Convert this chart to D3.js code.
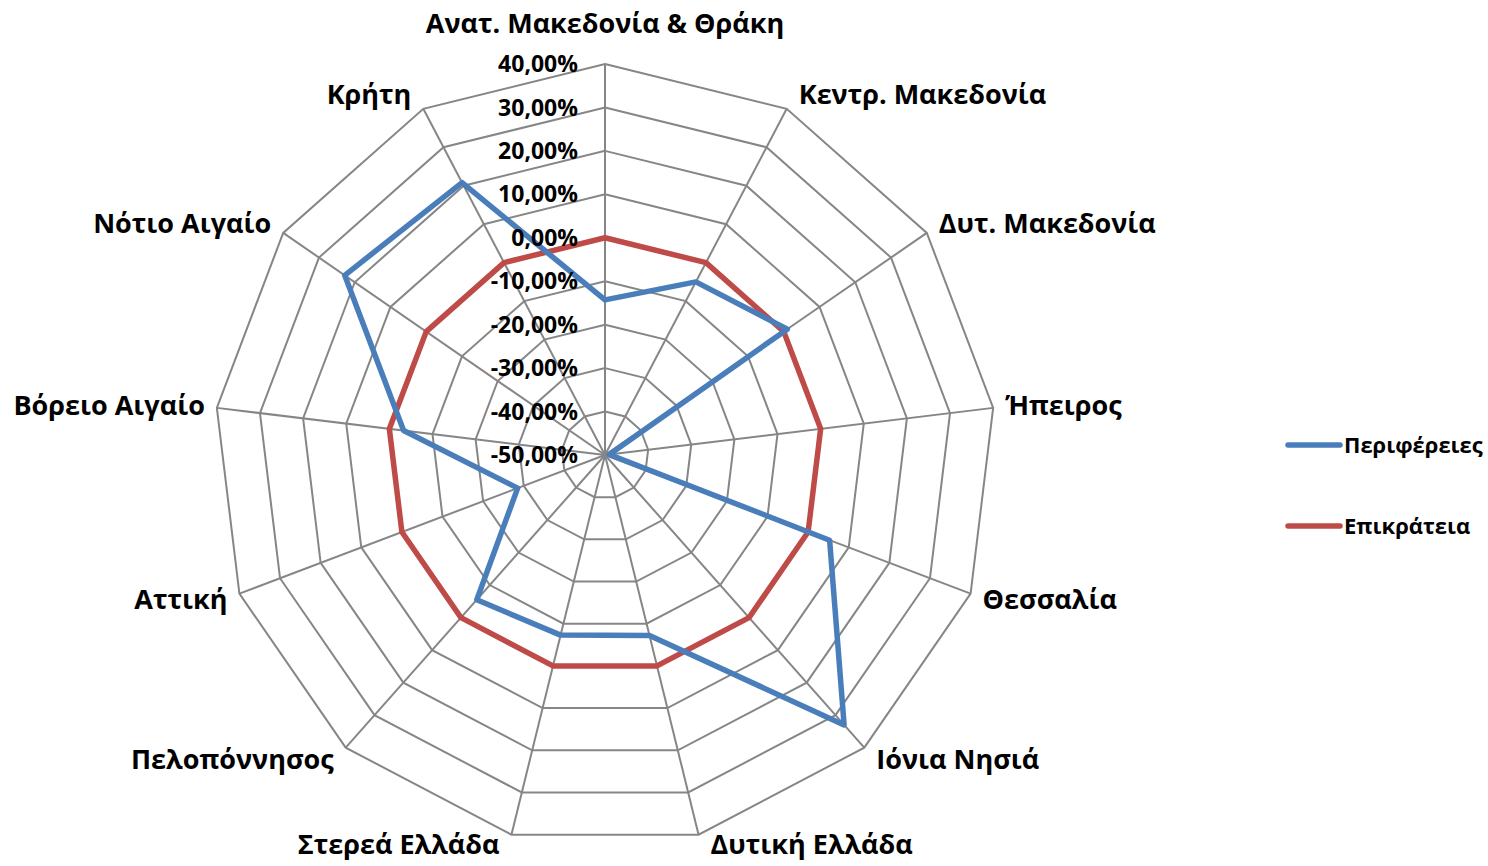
<!DOCTYPE html>
<html>
<head>
<meta charset="utf-8">
<script src="https://cdn.jsdelivr.net/npm/d3@7"></script>
<style>
    body { margin: 0; background: #fff; }
    svg { display: block; }
    text { font-family: "Open Sans", "Noto Sans", sans-serif; font-weight: bold; fill: #000; }
</style>
</head>
<body>
<svg class="chart" width="1488" height="866"></svg>
<script>

const categories = [
    'Ανατ. Μακεδονία & Θράκη',
    'Κεντρ. Μακεδονία',
    'Δυτ. Μακεδονία',
    'Ήπειρος',
    'Θεσσαλία',
    'Ιόνια Νησιά',
    'Δυτική Ελλάδα',
    'Στερεά Ελλάδα',
    'Πελοπόννησος',
    'Αττική',
    'Βόρειο Αιγαίο',
    'Νότιο Αιγαίο',
    'Κρήτη'
];

// percent change
const perifereies = [-14.3, -5, 1, -49, 5.3, 33, -7.2, -7.3, -5.5, -28.5, -3.3, 22.8, 20.8];
const epikrateia  = [0, 0, 0, 0, 0, 0, 0, 0, 0, 0, 0, 0, 0];

const ticks = [-50, -40, -30, -20, -10, 0, 10, 20, 30, 40];

const series = [
    { name: 'Περιφέρειες', values: perifereies, color: '#4A7EBB' },
    { name: 'Επικράτεια',  values: epikrateia,  color: '#BE4B48' }
];

const main = {};

init();

function init() {

    main.svg = d3.select('.chart');

    main.cx = 605;
    main.cy = 455;
    main.R = 391;

    main.r = d3.scaleLinear()
        .domain([-50, 40])
        .range([0, main.R]);

    main.angle = d3.scaleLinear()
        .domain([0, categories.length])
        .range([0, 2 * Math.PI]);

    main.g = main.svg.append('g')
        .attr('transform', `translate(${main.cx},${main.cy})`);

    drawGrid();
    drawSeries();
    drawTicks();
    drawLabels();
    drawLegend();

}

function point(i, v) {

    const a = main.angle(i);
    const rr = main.r(v);
    return [rr * Math.sin(a), -rr * Math.cos(a)];

}

function drawGrid() {

    const ring = d3.line().curve(d3.curveLinearClosed);

    main.g.append('g')
        .selectAll('path')
        .data(ticks.slice(1))
        .join('path')
        .attr('d', t => ring(categories.map((c, i) => point(i, t))))
        .attr('fill', 'none')
        .attr('stroke', '#868686')
        .attr('stroke-width', 2);

    main.g.append('g')
        .selectAll('line')
        .data(categories)
        .join('line')
        .attr('x1', 0)
        .attr('y1', 0)
        .attr('x2', (c, i) => point(i, 40)[0])
        .attr('y2', (c, i) => point(i, 40)[1])
        .attr('stroke', '#868686')
        .attr('stroke-width', 2);

}

function drawSeries() {

    const line = d3.line().curve(d3.curveLinearClosed);

    // red first so blue sits on top where they cross
    main.g.append('g')
        .selectAll('path')
        .data(series.slice().reverse())
        .join('path')
        .attr('d', s => line(s.values.map((v, i) => point(i, v))))
        .attr('fill', 'none')
        .attr('stroke', s => s.color)
        .attr('stroke-width', 5.5)
        .attr('stroke-linejoin', 'round');

}

function drawTicks() {

    // excel style: comma decimals, plain hyphen for minus
    const fmt = t => d3.format('.2f')(t).replace('.', ',').replace('−', '-') + '%';

    main.g.append('g')
        .selectAll('text')
        .data(ticks)
        .join('text')
        .attr('x', -27)
        .attr('y', t => -main.r(t))
        .attr('dy', '0.35em')
        .attr('text-anchor', 'end')
        .style('font-size', '23px')
        .text(fmt);

}

function drawLabels() {

    main.g.append('g')
        .selectAll('text')
        .data(categories)
        .join('text')
        .each(function(c, i) {

            const a = main.angle(i);
            const s = Math.sin(a);
            const co = Math.cos(a);
            const [x, y] = point(i, 40);
            const el = d3.select(this);

            if (i == 0) {
                el.attr('x', x).attr('y', y - 40).attr('text-anchor', 'middle');
            } else {
                // keep the two bottom labels inside the frame
                el.attr('x', x + 12 * Math.sign(s))
                  .attr('y', Math.min(y - 16 * co, 390))
                  .attr('text-anchor', s > 0 ? 'start' : 'end');
            }

        })
        .attr('dy', '0.35em')
        .style('font-size', '27px')
        .text(c => c);

}

function drawLegend() {

    const lg = main.svg.append('g')
        .selectAll('g')
        .data(series)
        .join('g')
        .attr('transform', (s, i) => `translate(1288,${445 + i * 81})`);

    lg.append('line')
        .attr('x1', 0)
        .attr('x2', 52)
        .attr('stroke', s => s.color)
        .attr('stroke-width', 5.5)
        .attr('stroke-linecap', 'round');

    lg.append('text')
        .attr('x', 56)
        .attr('dy', '0.35em')
        .style('font-size', '22px')
        .text(s => s.name);

}

</script>
</body>
</html>
